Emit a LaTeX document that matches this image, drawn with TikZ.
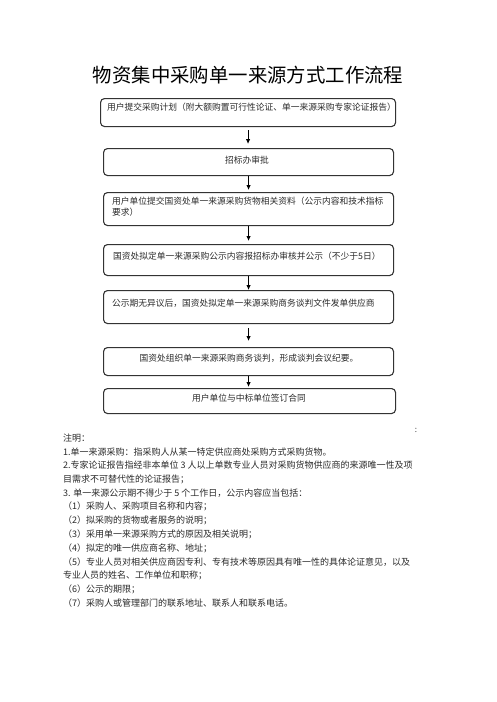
\documentclass[tikz,border=0pt]{standalone}
\usepackage{fontspec}
\setmainfont{Noto Sans CJK SC}
\usetikzlibrary{arrows.meta}
\definecolor{boxc}{HTML}{333333}
\definecolor{txtc}{HTML}{2A2A2A}
\tikzset{
  box/.style={draw=boxc, line width=1.1pt, rounded corners=4pt, anchor=north west, inner sep=0pt},
  btxt/.style={font=\fontsize{8.75pt}{10pt}\selectfont, text=txtc, inner sep=0pt},
  ntxt/.style={font=\fontsize{9pt}{10pt}\selectfont, text=txtc, inner sep=0pt, anchor=west},
  arr/.style={draw=black, line width=0.9pt, -{Latex[length=5pt,width=4.5pt]}}
}
\begin{document}
\begin{tikzpicture}[x=1pt,y=-1pt]
\useasboundingbox[fill=white] (0,0) rectangle (496,702);
% title
\node[font=\fontsize{19.4pt}{22pt}\selectfont, inner sep=0pt] (title) at (248,75) {物资集中采购单一来源方式工作流程};
% boxes
\node[box, minimum width=295pt, minimum height=28pt] (b1) at (100,98) {};
\node[box, minimum width=290pt, minimum height=27pt] (b2) at (103,148) {};
\node[box, minimum width=290pt, minimum height=33pt] (b3) at (103,192) {};
\node[box, minimum width=290pt, minimum height=31pt] (b4) at (103,244) {};
\node[box, minimum width=290pt, minimum height=33pt] (b5) at (103,290) {};
\node[box, minimum width=290pt, minimum height=28pt] (b6) at (103,347) {};
\node[box, minimum width=292pt, minimum height=25pt] (b7) at (103,388) {};
% box texts
\node[btxt, anchor=west] (t1) at (107,107) {用户提交采购计划（附大额购置可行性论证、单一来源采购专家论证报告）};
\node[btxt] (t2) at (247,160) {招标办审批};
\node[btxt, anchor=west] (t3a) at (112,201) {用户单位提交国资处单一来源采购货物相关资料（公示内容和技术指标};
\node[btxt, anchor=west] (t3b) at (112,212.5) {要求）};
\node[btxt, anchor=west] (t4) at (113,256) {国资处拟定单一来源采购公示内容报招标办审核并公示（不少于5日）};
\node[btxt, anchor=west] (t5) at (112,303) {公示期无异议后，国资处拟定单一来源采购商务谈判文件发单供应商};
\node[btxt] (t6) at (249,358) {国资处组织单一来源采购商务谈判，形成谈判会议纪要。};
\node[btxt] (t7) at (249,398) {用户单位与中标单位签订合同};
% arrows
\draw[arr] ([yshift=-3pt]b1.south) -- ([yshift=4pt]b1.south |- b2.north);
\draw[arr] (b2.south) -- ([yshift=2pt]b2.south |- b3.north);
\draw[arr] (b3.south) -- ([yshift=3pt]b3.south |- b4.north);
\draw[arr] (b4.south) -- (b4.south |- b5.north);
\draw[arr] ([yshift=-4pt]b5.south) -- ([yshift=6pt]b5.south |- b6.north);
\draw[arr] (b6.south) -- ([yshift=1pt]b6.south |- b7.north);
% stray colon
\node[font=\fontsize{8pt}{9pt}\selectfont, text=darkgray, inner sep=0pt] (colon) at (416,430) {:};
% notes
\node[ntxt] (n0) at (63,438) {注明：};
\node[ntxt] (n1) at (63,451.75) {1.单一来源采购：指采购人从某一特定供应商处采购方式采购货物。};
\node[ntxt] (n2) at (63,465.5) {2.专家论证报告指经非本单位 3 人以上单数专业人员对采购货物供应商的来源唯一性及项};
\node[ntxt] (n3) at (63,479.25) {目需求不可替代性的论证报告；};
\node[ntxt] (n4) at (63,493) {3. 单一来源公示期不得少于 5 个工作日，公示内容应当包括：};
\node[ntxt] (n5) at (63,506.75) {（1）采购人、采购项目名称和内容；};
\node[ntxt] (n6) at (63,520.5) {（2）拟采购的货物或者服务的说明；};
\node[ntxt] (n7) at (63,534.25) {（3）采用单一来源采购方式的原因及相关说明；};
\node[ntxt] (n8) at (63,548) {（4）拟定的唯一供应商名称、地址；};
\node[ntxt] (n9) at (63,561.75) {（5）专业人员对相关供应商因专利、专有技术等原因具有唯一性的具体论证意见，以及};
\node[ntxt] (n10) at (63,575.5) {专业人员的姓名、工作单位和职称；};
\node[ntxt] (n11) at (63,589.25) {（6）公示的期限；};
\node[ntxt] (n12) at (63,603) {（7）采购人或管理部门的联系地址、联系人和联系电话。};
\end{tikzpicture}
\end{document}
